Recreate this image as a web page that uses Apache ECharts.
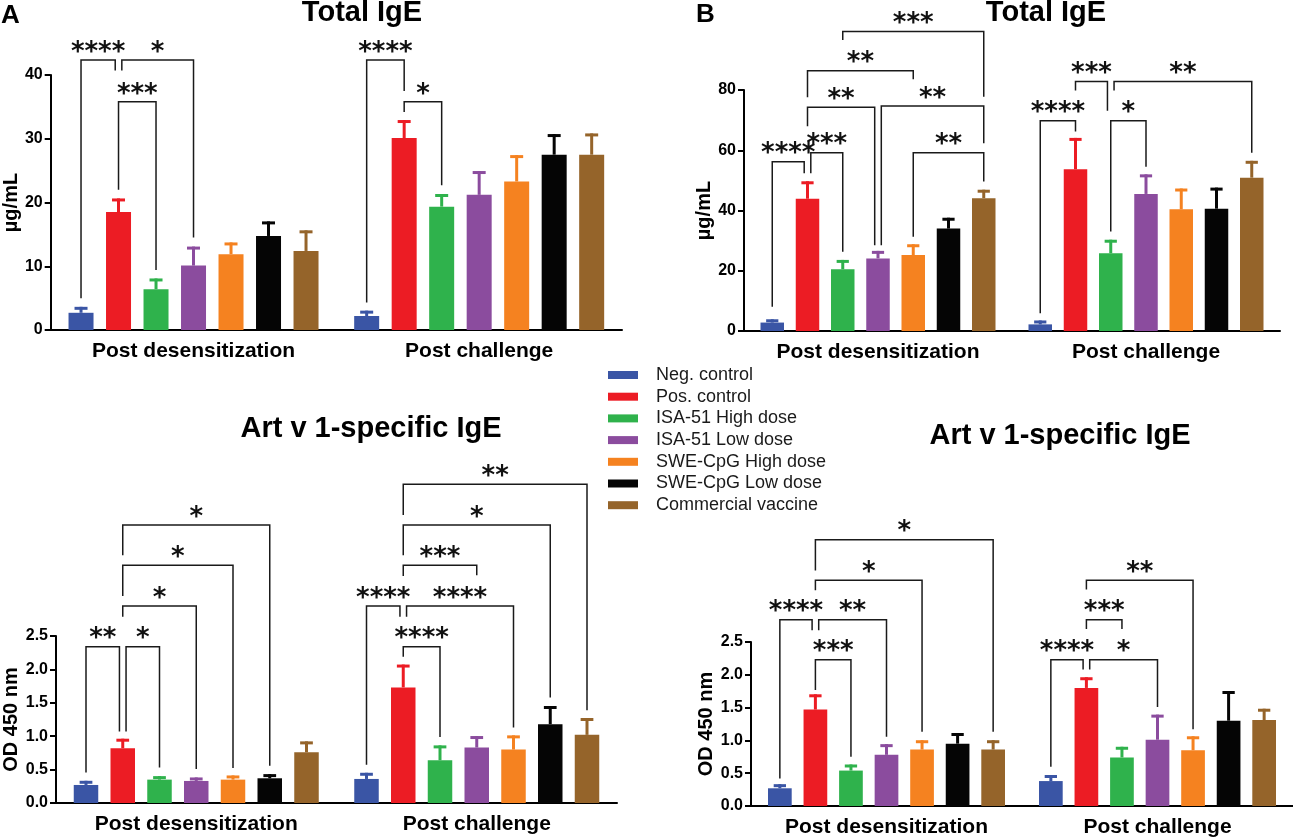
<!DOCTYPE html>
<html>
<head>
<meta charset="utf-8">
<title>IgE</title>
<script src="https://cdn.jsdelivr.net/npm/echarts/dist/echarts.min.js"></script>
<style>
  html, body { margin: 0; padding: 0; background: #fff; }
  #chart { width: 1293px; height: 838px; }
</style>
</head>
<body>
<div id="chart"></div>
<script>
const groups = ['Post desensitization', 'Post challenge']
const seriesNames = ['Neg. control', 'Pos. control', 'ISA-51 High dose', 'ISA-51 Low dose',
  'SWE-CpG High dose', 'SWE-CpG Low dose', 'Commercial vaccine']
const colors = ['#3a55a5', '#ec1c24', '#2fb24c', '#8b4c9e', '#f58220', '#050505', '#95642a']

// A: total IgE (µg/mL), mean and SEM per group
const totalIgeA = [[2.7, 18.5, 6.4, 10.1, 11.9, 14.75, 12.4], [2.2, 30.1, 19.35, 21.2, 23.3, 27.5, 27.5]]
const totalIgeASem = [[0.7, 1.9, 1.45, 2.75, 1.6, 2.05, 3.0], [0.6, 2.6, 1.75, 3.5, 3.9, 3.0, 3.1]]
// B: total IgE (µg/mL)
const totalIgeB = [[2.8, 43.9, 20.5, 24.1, 25.2, 34.0, 44.1], [2.2, 53.7, 25.8, 45.5, 40.4, 40.6, 50.9]]
const totalIgeBSem = [[0.6, 5.3, 2.6, 2.0, 3.1, 3.1, 2.3], [0.8, 9.9, 4.0, 6.0, 6.4, 6.5, 5.1]]
// C: Art v 1-specific IgE (OD 450 nm)
const artvC = [[0.27, 0.82, 0.35, 0.33, 0.35, 0.37, 0.76], [0.36, 1.73, 0.64, 0.83, 0.80, 1.18, 1.02]]
const artvCSem = [[0.04, 0.12, 0.03, 0.03, 0.04, 0.04, 0.14], [0.07, 0.32, 0.20, 0.15, 0.19, 0.25, 0.23]]
// D: Art v 1-specific IgE (OD 450 nm)
const artvD = [[0.27, 1.47, 0.54, 0.78, 0.86, 0.95, 0.86], [0.38, 1.80, 0.74, 1.01, 0.85, 1.30, 1.31]]
const artvDSem = [[0.04, 0.21, 0.07, 0.14, 0.12, 0.14, 0.12], [0.07, 0.14, 0.14, 0.36, 0.19, 0.43, 0.15]]

// significance brackets: [group, barFrom, barTo, bracket level, leg end at barFrom, leg end at barTo, stars]
const bracketsA = [
  [0, 0, 1, 42.35, 4.97, 40.7, '****'],
  [0, 1, 3, 42.35, 40.7, 14.5, '*'],
  [0, 1, 2, 35.8, 22.0, 9.4, '***'],
  [1, 0, 1, 42.35, 4.3, 37.5, '****'],
  [1, 1, 2, 35.8, 34.2, 22.7, '*'],
]
const bracketsB = [
  [0, 0, 1, 56.2, 8.07, 52.35, '****'],
  [0, 1, 2, 59.2, 52.35, 26.3, '***'],
  [0, 1, 3, 74.3, 68.0, 28.5, '**'],
  [0, 1, 4, 86.4, 77.6, 83.55, '**'],
  [0, 3, 6, 74.7, 28.5, 62.3, '**'],
  [0, 2, 6, 99.4, 96.6, 77.8, '***'],
  [0, 4, 6, 59.2, 31.3, 49.6, '**'],
  [1, 0, 1, 69.8, 5.9, 66.2, '****'],
  [1, 1, 2, 82.8, 79.8, 73.1, '***'],
  [1, 2, 3, 69.8, 33.0, 54.5, '*'],
  [1, 2, 6, 82.8, 79.8, 59.2, '**'],
]
const bracketsC = [
  [0, 0, 1, 2.34, 0.457, 1.07, '**'],
  [0, 1, 2, 2.34, 1.07, 0.532, '*'],
  [0, 1, 3, 2.95, 2.79, 0.508, '*'],
  [0, 1, 4, 3.56, 3.10, 0.523, '*'],
  [0, 1, 5, 4.16, 3.71, 0.558, '*'],
  [1, 0, 1, 2.95, 0.572, 2.79, '****'],
  [1, 1, 2, 2.34, 2.19, 0.987, '****'],
  [1, 1, 4, 2.95, 2.79, 1.13, '****'],
  [1, 1, 3, 3.56, 3.40, 3.41, '***'],
  [1, 1, 5, 4.16, 3.71, 1.58, '*'],
  [1, 1, 6, 4.77, 4.31, 1.39, '**'],
]
const bracketsD = [
  [0, 0, 1, 2.84, 0.42, 2.68, '****'],
  [0, 1, 3, 2.84, 2.68, 1.055, '**'],
  [0, 1, 2, 2.23, 1.77, 0.75, '***'],
  [0, 1, 4, 3.44, 3.29, 1.13, '*'],
  [0, 1, 6, 4.06, 3.59, 1.13, '*'],
  [1, 0, 1, 2.23, 0.60, 2.08, '****'],
  [1, 1, 3, 2.23, 2.08, 1.51, '*'],
  [1, 1, 2, 2.84, 2.70, 2.70, '***'],
  [1, 1, 4, 3.44, 3.30, 1.17, '**'],
]

const FONT = '"Liberation Sans", Arial, Helvetica, sans-serif'
const STAR_FONT = 'bold 26px "DejaVu Sans", sans-serif'

const panels = [
  { title: 'Total IgE', letter: 'A', means: totalIgeA, sem: totalIgeASem, brackets: bracketsA,
    yMax: 40, yStep: 10, digits: 0, yName: 'µg/mL', barWidth: 25,
    grid: { left: 50, top: 75, width: 572, height: 255 }, titleAt: [362, 13], letterAt: [1, 16] },
  { title: 'Total IgE', letter: 'B', means: totalIgeB, sem: totalIgeBSem, brackets: bracketsB,
    yMax: 80, yStep: 20, digits: 0, yName: 'µg/mL', barWidth: 23.5,
    grid: { left: 744, top: 90, width: 536, height: 241 }, titleAt: [1046, 13], letterAt: [696, 15] },
  { title: 'Art v 1-specific IgE', means: artvC, sem: artvCSem, brackets: bracketsC,
    yMax: 2.5, yStep: 0.5, digits: 1, yName: 'OD 450 nm', barWidth: 24.5,
    grid: { left: 56, top: 636, width: 561, height: 167 }, titleAt: [371, 429] },
  { title: 'Art v 1-specific IgE', means: artvD, sem: artvDSem, brackets: bracketsD,
    yMax: 2.5, yStep: 0.5, digits: 1, yName: 'OD 450 nm', barWidth: 23.7,
    grid: { left: 751, top: 642, width: 544, height: 164 }, titleAt: [1060, 436] },
]

// legs of two brackets meeting on the same bar from opposite sides are pulled apart
const legNudges = (brackets) => brackets.map((b, idx) => {
  const side = (bar, end, isFrom) => {
    const lo = Math.min(end, b[3]), hi = Math.max(end, b[3])
    const clash = brackets.some((o, j) => {
      if (j === idx || o[0] !== b[0]) return false
      const otherEnd = isFrom ? (o[2] === bar ? o[5] : null) : (o[1] === bar ? o[4] : null)
      if (otherEnd === null) return false
      return Math.min(otherEnd, o[3]) <= hi && Math.max(otherEnd, o[3]) >= lo
    })
    return clash ? (isFrom ? 1 : -1) : 0
  }
  return [side(b[1], b[4], true), side(b[2], b[5], false)]
})

const grids = []
const xAxes = []
const yAxes = []
const series = []
const graphics = []

panels.forEach((p, k) => {
  const pitch = p.barWidth * 1.5
  grids.push({ ...p.grid, containLabel: false })
  xAxes.push({
    type: 'category', gridIndex: k, data: groups,
    axisLine: { lineStyle: { color: '#000', width: 2 } },
    axisTick: { alignWithLabel: true, length: 7, lineStyle: { color: '#000', width: 2 } },
    axisLabel: { margin: 11, color: '#000', fontSize: 21, fontWeight: 'bold', fontFamily: FONT },
  })
  yAxes.push({
    type: 'value', gridIndex: k, min: 0, max: p.yMax, interval: p.yStep,
    name: p.yName, nameLocation: 'middle', nameGap: 27, nameRotate: 90,
    nameTextStyle: { color: '#000', fontSize: 20, fontWeight: 'bold', fontFamily: FONT },
    axisLine: { show: true, lineStyle: { color: '#000', width: 2 } },
    axisTick: { show: true, length: 6, lineStyle: { color: '#000', width: 2 } },
    splitLine: { show: false },
    axisLabel: { margin: 8, color: '#000', fontSize: 16, fontWeight: 'bold', fontFamily: FONT,
      formatter: (v) => v.toFixed(p.digits) },
  })

  seriesNames.forEach((name, i) => {
    series.push({
      type: 'bar', name, xAxisIndex: k, yAxisIndex: k,
      data: p.means.map(g => g[i]),
      barWidth: p.barWidth, barGap: '50%',
      itemStyle: { color: colors[i] },
    })
  })

  const errData = []
  p.means.forEach((g, gi) => g.forEach((m, i) => errData.push([gi, i, m, p.sem[gi][i]])))
  series.push({
    type: 'custom', xAxisIndex: k, yAxisIndex: k, clip: false, silent: true, z: 3,
    encode: { x: 0, y: 2 },
    data: errData,
    renderItem: (params, api) => {
      const g = api.value(0), i = api.value(1), m = api.value(2), s = api.value(3)
      const base = api.coord([g, m])
      const top = api.coord([g, m + s])
      const x = base[0] + (i - 3) * pitch
      const cap = p.barWidth * 0.26
      const style = { stroke: colors[i], lineWidth: 3 }
      return {
        type: 'group',
        children: [
          { type: 'line', shape: { x1: x, y1: base[1], x2: x, y2: top[1] - 1.5 }, style },
          { type: 'line', shape: { x1: x - cap, y1: top[1], x2: x + cap, y2: top[1] }, style },
        ],
      }
    },
  })

  const nudges = legNudges(p.brackets)
  series.push({
    type: 'custom', xAxisIndex: k, yAxisIndex: k, clip: false, silent: true, z: 4,
    encode: { x: 0, y: 3 },
    data: p.brackets.map(b => b.slice(0, 6)),
    renderItem: (params, api) => {
      const [g, a, c, level, endA, endC, stars] = p.brackets[params.dataIndex]
      const n = nudges[params.dataIndex]
      const center = api.coord([g, level])
      const xa = center[0] + (a - 3) * pitch + n[0] * 3.3
      const xc = center[0] + (c - 3) * pitch + n[1] * 3.3
      const ya = api.coord([g, endA])[1]
      const yc = api.coord([g, endC])[1]
      return {
        type: 'group',
        children: [
          { type: 'polyline', shape: { points: [[xa, ya], [xa, center[1]], [xc, center[1]], [xc, yc]] },
            style: { stroke: '#1a1a1a', lineWidth: 1.5, fill: null } },
          { type: 'text', style: { text: stars, x: (xa + xc) / 2, y: center[1] - 7,
            textAlign: 'center', textVerticalAlign: 'middle', align: 'center', verticalAlign: 'middle',
            font: STAR_FONT, fill: '#111' } },
        ],
      }
    },
  })

  graphics.push({ type: 'text', style: { text: p.title, x: p.titleAt[0], y: p.titleAt[1],
    textAlign: 'center', textVerticalAlign: 'middle', align: 'center', verticalAlign: 'middle',
    font: 'bold 29px ' + FONT, fill: '#000' } })
  if (p.letter) {
    graphics.push({ type: 'text', style: { text: p.letter, x: p.letterAt[0], y: p.letterAt[1],
      textAlign: 'left', textVerticalAlign: 'middle', align: 'left', verticalAlign: 'middle',
      font: 'bold 26px ' + FONT, fill: '#000' } })
  }
})

const chart = echarts.init(document.getElementById('chart'), null, { renderer: 'canvas' })
chart.setOption({
  backgroundColor: '#fff',
  animation: false,
  grid: grids,
  xAxis: xAxes,
  yAxis: yAxes,
  legend: {
    data: seriesNames, orient: 'vertical', left: 608, top: 366, padding: 0,
    icon: 'rect', itemWidth: 30, itemHeight: 8, itemGap: 3.7, selectedMode: false,
    textStyle: { fontSize: 18, lineHeight: 18, color: '#1a1a1a', fontFamily: FONT, padding: [0, 0, 0, 13] },
  },
  graphic: graphics,
  series,
})
</script>
</body>
</html>
